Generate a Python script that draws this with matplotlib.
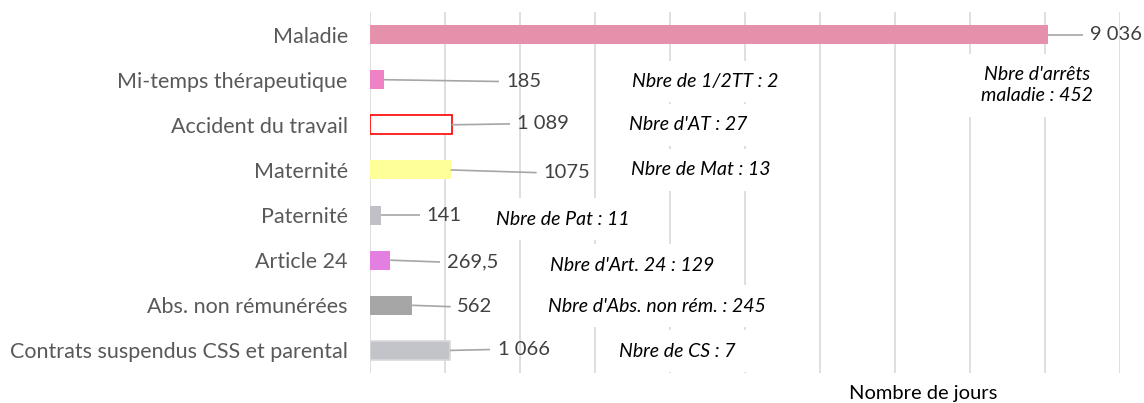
import matplotlib
matplotlib.use("Agg")
import matplotlib.pyplot as plt

plt.rcParams["font.family"] = ["Lato", "DejaVu Sans"]

# data
categories = ["Maladie", "Mi-temps thérapeutique", "Accident du travail", "Maternité",
              "Paternité", "Article 24", "Abs. non rémunérées",
              "Contrats suspendus CSS et parental"]
jours = [9036, 185, 1089, 1075, 141, 269.5, 562, 1066]
value_labels = ["9 036", "185", "1 089", "1075", "141", "269,5", "562", "1 066"]
notes = ["Nbre d'arrêts\nmaladie : 452", "Nbre de 1/2TT : 2", "Nbre d'AT : 27",
         "Nbre de Mat : 13", "Nbre de Pat : 11", "Nbre d'Art. 24 : 129",
         "Nbre d'Abs. non rém. : 245", "Nbre de CS : 7"]

fill_colors = ["#E691AB", "#EE82C5", "white", "#FFFF99", "#C0C0C6", "#E27FE0",
               "#A6A6A6", "#C3C4C9"]
edge_colors = ["none", "none", "#FF0000", "none", "none", "none", "none", "#D9D9D9"]

# layout of labels (data units)
label_x = [9600, 1822, 1956, 2311, 756, 1027, 1164, 1702]
line_end = [9507, 1720, 1867, 2222, 667, 933, 1076, 1600]
label_dy = [0, 0.04, -0.02, 0.06, 0, 0.04, 0.03, -0.02]
note_x = [8893, 4467, 4240, 4413, 2567, 3493, 3827, 4093]
note_dy = [1.12, 0.04, 0.0, 0.0, 0.09, 0.11, 0.02, 0.02]

fig = plt.figure(figsize=(11.44, 4.03), dpi=100)
ax = fig.add_axes([370 / 1144, 1 - 373 / 403, 750 / 1144, 361 / 403])

y = list(range(len(categories)))
ax.barh(y, jours, height=0.42, color=fill_colors, edgecolor=edge_colors,
        linewidth=1.2, zorder=3)

ax.set_xlim(0, 10000)
ax.set_ylim(len(categories) - 0.5, -0.5)
ax.set_xticks(range(0, 10001, 1000))
ax.set_xticklabels([])
ax.tick_params(axis="x", length=0)
ax.grid(axis="x", color="#D9D9D9", linewidth=1.2, zorder=0)
ax.set_axisbelow(True)
for s in ax.spines.values():
    s.set_visible(False)

ax.set_yticks(y)
ax.set_yticklabels(categories, fontsize=15.5, color="#595959")
ax.tick_params(axis="y", length=0, pad=16)

for i in y:
    ly = i + label_dy[i]
    ax.plot([jours[i], line_end[i]], [i, ly], color="#A6A6A6", linewidth=1.2,
            zorder=4, solid_capstyle="butt")
    ax.text(label_x[i], ly, value_labels[i], fontsize=14.5, color="#404040",
            va="center", ha="left", zorder=5)
    ax.text(note_x[i], i + note_dy[i], notes[i], fontsize=14, style="italic",
            color="black", ha="center", va="center", linespacing=1.3, zorder=2,
            bbox=dict(facecolor="white", edgecolor="none", pad=9))

fig.text(923 / 1144, 1 - 394 / 403, "Nombre de jours", fontsize=14.5,
         color="black", ha="center", va="center")

fig.savefig("out.png", dpi=100)
